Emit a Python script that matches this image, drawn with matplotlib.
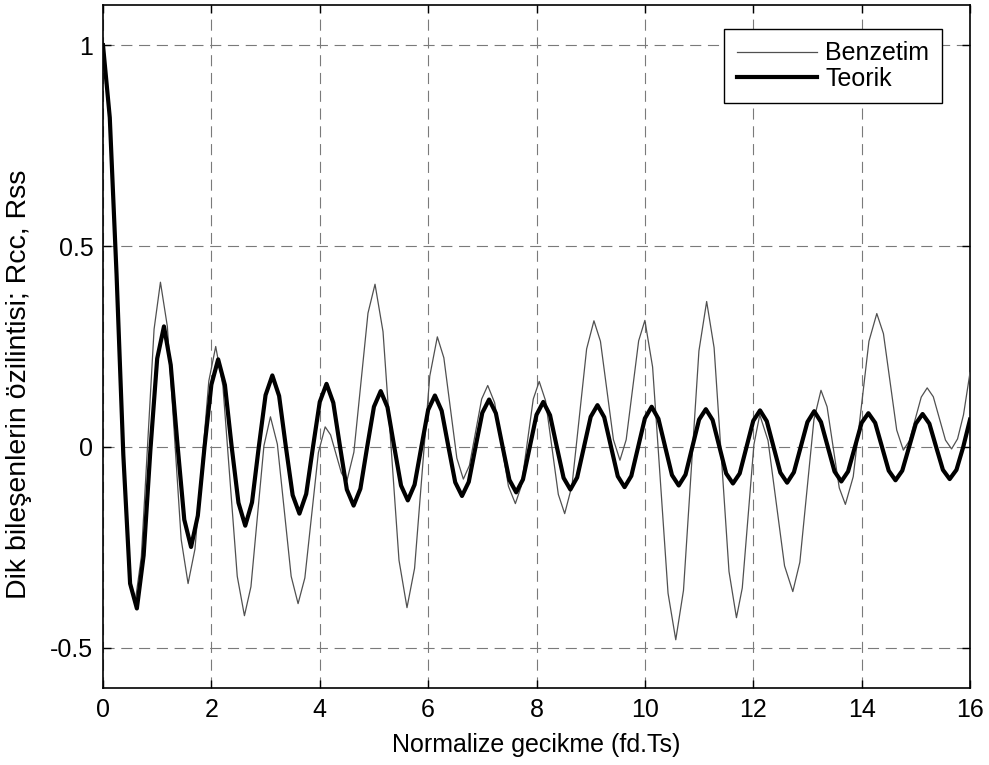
import numpy as np
import matplotlib
matplotlib.use("Agg")
import matplotlib.pyplot as plt

plt.rcParams['font.family'] = ['Liberation Sans', 'DejaVu Sans']

# ---- data ----
# Teorik (theoretical) curve, sampled every 0.125 lag units
teorik_x = np.linspace(0, 16, 129)
teorik_y = [
    1.000, 0.820, 0.430, -0.020, -0.340, -0.402, -0.270, -0.007,
    0.220, 0.300, 0.204, 0.005, -0.181, -0.249, -0.171, 0.002,
    0.155, 0.218, 0.154, 0.000, -0.139, -0.196, -0.138, 0.000,
    0.129, 0.178, 0.127, 0.000, -0.120, -0.166, -0.117, 0.000,
    0.112, 0.157, 0.110, 0.000, -0.106, -0.146, -0.104, 0.000,
    0.100, 0.139, 0.099, 0.000, -0.096, -0.133, -0.094, 0.000,
    0.092, 0.128, 0.090, 0.000, -0.088, -0.122, -0.087, 0.000,
    0.085, 0.118, 0.084, 0.000, -0.082, -0.113, -0.081, 0.000,
    0.080, 0.112, 0.079, 0.000, -0.077, -0.106, -0.076, 0.000,
    0.075, 0.104, 0.074, 0.000, -0.073, -0.100, -0.072, 0.000,
    0.071, 0.100, 0.070, 0.000, -0.070, -0.096, -0.069, 0.000,
    0.068, 0.094, 0.067, 0.000, -0.066, -0.091, -0.066, 0.000,
    0.065, 0.091, 0.064, 0.000, -0.064, -0.089, -0.063, 0.000,
    0.062, 0.089, 0.062, 0.000, -0.061, -0.086, -0.061, 0.000,
    0.060, 0.084, 0.060, 0.000, -0.059, -0.083, -0.059, 0.000,
    0.058, 0.082, 0.058, 0.000, -0.057, -0.080, -0.057, 0.000,
    0.068,
]

# Benzetim (simulation) curve
benzetim_x = [
    0.0, 0.125, 0.25, 0.375, 0.5, 0.59,
    0.7075, 0.825, 0.9425, 1.06,
    1.1875, 1.315, 1.4425, 1.57,
    1.6975, 1.825, 1.9525, 2.08,
    2.2125, 2.345, 2.4775, 2.61,
    2.73, 2.85, 2.97, 3.09,
    3.2175, 3.345, 3.4725, 3.60,
    3.725, 3.85, 3.975, 4.10,
    4.2, 4.3, 4.4, 4.50,
    4.63, 4.76, 4.89, 5.02,
    5.1675, 5.315, 5.4625, 5.61,
    5.75, 5.89, 6.03, 6.17,
    6.29, 6.41, 6.53, 6.65,
    6.7625, 6.875, 6.9875, 7.10,
    7.2275, 7.355, 7.4825, 7.61,
    7.72, 7.83, 7.94, 8.05,
    8.1675, 8.285, 8.4025, 8.52,
    8.655, 8.79, 8.925, 9.06,
    9.18, 9.30, 9.42, 9.54,
    9.655, 9.77, 9.885, 10.0,
    10.1425, 10.285, 10.4275, 10.57,
    10.7125, 10.855, 10.9975, 11.14,
    11.2775, 11.415, 11.5525, 11.69,
    11.7975, 11.905, 12.0125, 12.12,
    12.2725, 12.425, 12.5775, 12.73,
    12.86, 12.99, 13.12, 13.25,
    13.3625, 13.475, 13.5875, 13.70,
    13.845, 13.99, 14.135, 14.28,
    14.4025, 14.525, 14.6475, 14.77,
    14.88, 14.99, 15.10, 15.21,
    15.3225, 15.435, 15.5475, 15.66,
    15.77, 15.88, 16.0,
]
benzetim_y = [
    1.0, 0.820, 0.430, -0.020, -0.330, -0.390,
    -0.273, 0.010, 0.293, 0.410,
    0.300, 0.035, -0.230, -0.340,
    -0.254, -0.045, 0.164, 0.250,
    0.152, -0.085, -0.322, -0.420,
    -0.348, -0.172, 0.003, 0.075,
    0.007, -0.157, -0.322, -0.390,
    -0.326, -0.170, -0.014, 0.050,
    0.030, -0.017, -0.065, -0.085,
    -0.013, 0.160, 0.333, 0.405,
    0.287, 0.002, -0.282, -0.400,
    -0.302, -0.063, 0.176, 0.274,
    0.222, 0.097, -0.028, -0.080,
    -0.046, 0.036, 0.119, 0.153,
    0.110, 0.006, -0.098, -0.141,
    -0.097, 0.011, 0.119, 0.163,
    0.115, -0.002, -0.118, -0.166,
    -0.096, 0.074, 0.244, 0.314,
    0.263, 0.140, 0.018, -0.033,
    0.018, 0.141, 0.264, 0.315,
    0.199, -0.082, -0.364, -0.480,
    -0.357, -0.059, 0.239, 0.362,
    0.247, -0.031, -0.310, -0.425,
    -0.351, -0.172, 0.006, 0.080,
    0.016, -0.140, -0.296, -0.360,
    -0.287, -0.110, 0.068, 0.141,
    0.100, -0.001, -0.102, -0.143,
    -0.074, 0.094, 0.263, 0.332,
    0.282, 0.162, 0.042, -0.008,
    0.015, 0.070, 0.124, 0.147,
    0.125, 0.071, 0.017, -0.005,
    0.020, 0.080, 0.185,
]

series_labels = ["Benzetim", "Teorik"]
x_ticks = [0, 2, 4, 6, 8, 10, 12, 14, 16]
y_ticks = [-0.5, 0, 0.5, 1]
y_tick_labels = ["-0.5", "0", "0.5", "1"]
x_label = "Normalize gecikme (fd.Ts)"
y_label = "Dik bileşenlerin özilintisi; Rcc, Rss"

FS = 18

fig = plt.figure(figsize=(9.89, 7.65), dpi=100)
ax = fig.add_axes([103/989, 1 - 688/765, 867/989, 683/765])

ax.plot(benzetim_x, benzetim_y, color='#505050', lw=0.9, label=series_labels[0], zorder=3)
ax.plot(teorik_x, teorik_y, color='black', lw=3.0, label=series_labels[1], zorder=4,
        solid_joinstyle='round')

ax.set_xlim(0, 16)
ax.set_ylim(-0.6, 1.1)
ax.set_xticks(x_ticks)
ax.set_xticklabels([str(t) for t in x_ticks])
ax.set_yticks(y_ticks)
ax.set_yticklabels(y_tick_labels)

ax.grid(True, color='#7a7a7a', lw=0.8, linestyle=(0, (10, 6)))
ax.set_axisbelow(True)

ax.tick_params(direction='in', length=6, width=1.0, top=True, right=True,
               labelsize=FS, pad=7, colors='black')
for s in ax.spines.values():
    s.set_linewidth(1.2)
    s.set_color('black')

ax.set_xlabel(x_label, fontsize=FS, labelpad=8)
ax.set_ylabel(y_label, fontsize=20.5)
ax.yaxis.set_label_coords(-0.082, 0.444)

leg = ax.legend(loc='upper right', bbox_to_anchor=(0.9677, 0.9649), borderaxespad=0,
                fontsize=FS, frameon=True, fancybox=False, framealpha=1,
                edgecolor='black', handlelength=3.2, handletextpad=0.35,
                labelspacing=0.05, borderpad=0.5)
leg.get_frame().set_linewidth(1.0)

fig.savefig("out.png", dpi=100)
